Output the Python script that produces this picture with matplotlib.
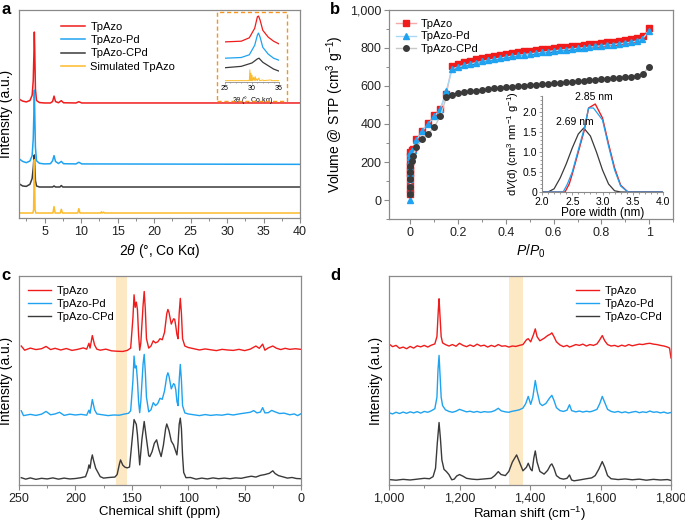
import matplotlib
matplotlib.use("Agg")
import matplotlib.pyplot as plt
from matplotlib.ticker import MultipleLocator, FuncFormatter
from matplotlib.patches import Rectangle

plt.rcParams['font.family'] = ['Liberation Sans', 'DejaVu Sans']
plt.rcParams['mathtext.fontset'] = 'custom'
plt.rcParams['mathtext.rm'] = 'Liberation Sans'
plt.rcParams['mathtext.it'] = 'Liberation Sans:italic'

RED = '#f01c1c'
BLUE = '#1fa3f0'
DARK = '#3a3a3a'
YEL = '#fdbb2a'
GRID = '#8a8a8a'
BAND = '#fde8c4'

# ---------------- panel a: PXRD ----------------
xrd_red_x = [1.5, 2.0, 2.5, 3.0, 3.3, 3.45, 3.55, 3.6, 3.65, 3.75, 3.9, 4.3, 5.0, 5.8, 6.1, 6.3, 6.5, 6.9, 7.3, 7.6, 9.3, 9.7, 10.1, 40]
xrd_red_y = [57.2, 56.2, 55.8, 56.5, 59, 66, 80, 89.4, 82, 62, 56.5, 55.5, 55.3, 55.3, 56, 58.6, 56, 55.4, 56.4, 55.4, 55.3, 55.9, 55.3, 55.3]
xrd_blue_x = [1.5, 2.0, 2.5, 3.0, 3.3, 3.45, 3.55, 3.6, 3.65, 3.75, 3.9, 4.3, 5.0, 5.8, 6.1, 6.3, 6.5, 6.9, 7.3, 7.6, 9.3, 9.7, 10.1, 40]
xrd_blue_y = [28.5, 27.2, 26.6, 27.4, 30, 38, 52, 61.5, 52, 34, 27.5, 26.3, 26.0, 26.1, 27.5, 30, 27.2, 26.2, 27.2, 26.1, 26.0, 26.8, 26.0, 25.8]
xrd_cpd_x = [1.5, 2.0, 2.5, 3.0, 3.3, 3.45, 3.55, 3.6, 3.65, 3.75, 3.9, 4.3, 6.1, 6.3, 6.5, 7.1, 7.3, 7.5, 40]
xrd_cpd_y = [16.5, 15.4, 15.2, 16.2, 19, 24, 29, 30.3, 26, 18, 15.4, 14.9, 14.9, 15.4, 14.9, 14.9, 15.6, 14.9, 14.9]
xrd_sim_x = [1.5, 3.4, 3.5, 3.57, 3.6, 3.63, 3.7, 3.8, 6.15, 6.3, 6.45, 7.15, 7.3, 7.45, 9.55, 9.7, 9.85, 12.7, 12.8, 12.9, 13.1, 13.2, 40]
xrd_sim_y = [2.4, 2.4, 4, 20, 28, 20, 4, 2.4, 2.4, 5.5, 2.4, 2.4, 4.2, 2.4, 2.4, 4.5, 2.4, 2.4, 3.0, 2.4, 2.8, 2.4, 2.4]

# inset of panel a (25-35 deg)
ins_x = [25, 28, 29.5, 30.5, 31.0, 31.2, 31.5, 32, 33, 34, 35]
ins_red = [0.59, 0.60, 0.65, 0.79, 0.96, 0.97, 0.91, 0.76, 0.66, 0.60, 0.56]
ins_blue = [0.35, 0.36, 0.40, 0.54, 0.69, 0.72, 0.66, 0.51, 0.41, 0.35, 0.32]
ins_cpd_x = [25, 28, 30, 31, 31.3, 32, 33, 34, 35]
ins_cpd = [0.21, 0.23, 0.28, 0.34, 0.35, 0.29, 0.24, 0.19, 0.16]
ins_sim_x = [25, 29.5, 29.6, 29.7, 29.8, 29.9, 30.0, 30.1, 30.3, 30.4, 30.6, 30.7, 30.9, 31.0, 31.3, 31.4, 32.0, 32.1, 33.5, 33.6, 35]
ins_sim_y = [0.02, 0.02, 0.18, 0.02, 0.13, 0.02, 0.10, 0.02, 0.07, 0.02, 0.08, 0.02, 0.05, 0.02, 0.06, 0.02, 0.03, 0.02, 0.03, 0.02, 0.02]

# ---------------- panel b: N2 isotherms ----------------
iso_red_x = [0, 0, 0, 0, 0, 0, 0, 0, 0, 0, 0.005, 0.01, 0.025, 0.05, 0.075, 0.1, 0.125, 0.15, 0.175,
             0.2, 0.225, 0.25, 0.275, 0.3, 0.325, 0.35, 0.375, 0.4, 0.425, 0.45, 0.475, 0.5, 0.525, 0.55,
             0.575, 0.6, 0.625, 0.65, 0.675, 0.7, 0.725, 0.75, 0.775, 0.8, 0.825, 0.85, 0.875, 0.9, 0.925,
             0.95, 0.975, 1.0]
iso_red_y = [30, 60, 90, 120, 140, 160, 180, 200, 230, 255, 265, 270, 320, 365, 405, 445, 480, 560, 705,
             718, 725, 732, 740, 745, 752, 758, 764, 770, 774, 778, 782, 786, 790, 793, 797, 800, 804, 807,
             810, 813, 816, 819, 822, 826, 829, 833, 836, 840, 845, 851, 862, 905]
iso_pd_x = [0, 0, 0, 0, 0, 0, 0, 0, 0, 0.005, 0.01, 0.025, 0.05, 0.075, 0.1, 0.125, 0.15, 0.175,
            0.2, 0.225, 0.25, 0.275, 0.3, 0.325, 0.35, 0.375, 0.4, 0.425, 0.45, 0.475, 0.5, 0.525, 0.55,
            0.575, 0.6, 0.625, 0.65, 0.675, 0.7, 0.725, 0.75, 0.775, 0.8, 0.825, 0.85, 0.875, 0.9, 0.925,
            0.95, 0.97, 1.0]
iso_pd_y = [0, 40, 80, 110, 140, 170, 200, 225, 250, 258, 262, 315, 365, 400, 440, 478, 575, 690,
            700, 708, 716, 723, 729, 735, 741, 746, 752, 757, 761, 765, 769, 773, 777, 781, 785, 788, 792,
            795, 798, 801, 804, 808, 811, 815, 818, 822, 826, 831, 837, 846, 890]
iso_cpd_x = [0, 0, 0, 0, 0, 0.005, 0.01, 0.025, 0.05, 0.075, 0.1, 0.125, 0.15, 0.175,
             0.2, 0.225, 0.25, 0.275, 0.3, 0.325, 0.35, 0.375, 0.4, 0.425, 0.45, 0.475, 0.5, 0.525, 0.55,
             0.575, 0.6, 0.625, 0.65, 0.675, 0.7, 0.725, 0.75, 0.775, 0.8, 0.825, 0.85, 0.875, 0.9, 0.925,
             0.95, 0.975, 1.0]
iso_cpd_y = [30, 70, 110, 150, 180, 205, 230, 280, 320, 350, 385, 440, 540, 555,
             562, 567, 572, 576, 580, 584, 587, 590, 593, 596, 599, 602, 605, 607, 610, 612, 615, 617, 620,
             622, 625, 627, 630, 632, 635, 637, 640, 643, 646, 650, 655, 665, 702]

# inset of panel b: pore size distribution
psd_red_x = [2.0, 2.38, 2.45, 2.5, 2.6, 2.7, 2.77, 2.88, 3.0, 3.1, 3.2, 3.3, 3.42, 4.0]
psd_red_y = [0, 0, 0.2, 0.45, 1.0, 1.55, 2.1, 2.2, 1.85, 1.2, 0.6, 0.17, 0, 0]
psd_pd_x = [2.0, 2.35, 2.42, 2.5, 2.6, 2.7, 2.77, 2.85, 3.0, 3.1, 3.2, 3.3, 3.42, 4.0]
psd_pd_y = [0, 0, 0.2, 0.5, 1.05, 1.6, 2.1, 2.1, 1.8, 1.15, 0.55, 0.15, 0, 0]
psd_cpd_x = [2.0, 2.1, 2.2, 2.3, 2.4, 2.5, 2.6, 2.69, 2.8, 2.9, 3.0, 3.1, 3.2, 3.3, 4.0]
psd_cpd_y = [0, 0, 0.08, 0.35, 0.7, 1.1, 1.45, 1.6, 1.4, 1.0, 0.55, 0.2, 0.03, 0, 0]

# ---------------- panel c: 13C NMR ----------------
nmr_red_x = [248, 245, 240, 235, 230, 226, 222, 218, 213, 208, 203, 198, 193, 190, 188, 187, 185, 183, 181,
             178, 173, 168, 163, 158, 154, 151, 149, 148, 147, 146, 145, 144, 143, 142, 140, 139, 138, 137,
             135, 133, 131, 129, 127, 125, 123, 121, 119, 118, 117, 115, 113, 112, 111, 110, 109, 108, 107,
             106, 105, 103, 100, 95, 90, 85, 80, 75, 70, 65, 60, 55, 50, 45, 40, 37, 34, 32, 29, 25, 22, 18,
             14, 10, 5, 0]
nmr_red_y = [66.5, 64.5, 65.5, 64.8, 65.2, 66.3, 64.8, 65.4, 64.6, 65.3, 64.4, 64.9, 65.6, 65.0, 67.8, 65.5,
             71.5, 67, 65, 64.5, 65.0, 64.2, 64.0, 63.9, 64.4, 65.5, 80, 91, 85, 87.5, 84, 72, 64.5, 68, 86,
             92.6, 84, 70, 65.5, 66.5, 69, 68, 68.5, 70, 69.5, 73, 82, 84, 82.5, 77, 79.5, 79.3, 76, 72, 70,
             82, 89.3, 82, 70, 66.5, 65.8, 65.2, 64.6, 65.1, 64.7, 64.3, 64.9, 64.6, 64.4, 64.9, 64.3, 65,
             66.5, 65.4, 67.4, 64.5, 65.6, 66.5, 65.5, 64.8, 65.4, 64.9, 65.2, 64.9]
nmr_pd_x = [248, 246, 240, 235, 230, 226, 222, 218, 214, 210, 205, 200, 195, 190, 188, 187, 185, 183, 181,
            176, 171, 166, 161, 157, 153, 151, 149, 148, 147, 146, 145, 144, 143, 142, 140, 139, 138, 137,
            135, 133, 131, 129, 127, 125, 123, 121, 119, 118, 117, 115, 113, 112, 111, 110, 109, 108, 107,
            106, 105, 103, 100, 95, 90, 85, 80, 75, 70, 65, 60, 55, 50, 45, 42, 39, 36, 34, 32, 29, 26, 23,
            19, 15, 10, 6, 3, 0]
nmr_pd_y = [35.5, 33.2, 33.8, 33.3, 33.9, 35.2, 33.6, 34.0, 34.8, 33.3, 33.9, 33.5, 33.8, 33.4, 35.8, 34.3,
            40.9, 36, 34, 33.6, 33.2, 33.5, 33.4, 33.9, 34.3, 35.5, 50, 61.7, 56, 57, 50, 40, 34.6, 40, 58,
            62.5, 54, 42, 35, 36, 39.4, 38, 39, 41.5, 41, 45, 52, 53.7, 52, 46, 48.5, 48, 45.5, 40, 38, 50,
            57.7, 50, 38, 34.5, 34, 33.6, 33.2, 33.7, 33.3, 33.6, 33.4, 33.9, 33.5, 34.0, 34.4, 34.8, 35.6,
            34.5, 34.9, 37, 34.5, 34.6, 35.7, 35.0, 34.2, 34.4, 33.6, 34.0, 33.2, 34.1]
nmr_cpd_x = [248, 244, 240, 235, 230, 225, 220, 215, 210, 205, 200, 195, 191, 189, 188, 187, 186, 185, 184,
             182, 180, 178, 175, 170, 165, 163, 161, 160, 158, 156, 154, 152, 150, 148, 146, 145, 143, 141,
             139, 137, 135, 134, 132, 130, 128, 126, 124, 122, 120, 119, 117, 115, 113, 111, 110, 109, 108,
             107, 106, 105, 104, 102, 98, 93, 88, 83, 78, 73, 68, 63, 58, 53, 48, 44, 40, 36, 32, 28, 25,
             23, 20, 16, 12, 8, 4, 0]
nmr_cpd_y = [3.5, 2.8, 3.4, 2.7, 3.2, 2.9, 3.4, 2.8, 3.3, 2.9, 3.1, 3.5, 4, 7, 9.6, 8, 12, 14.4, 12, 8, 6, 4,
             3.3, 3.6, 3.8, 5, 10, 12, 9.5, 8.5, 8.2, 8.6, 20, 31.3, 29, 24, 9.6, 22, 30.4, 22, 14, 13.6, 16,
             20, 21.6, 17, 13.6, 19, 27, 29.2, 26, 21, 19.2, 16, 14.4, 20, 29, 32, 27, 14, 6, 3.5, 3.6, 2.8,
             3.3, 2.9, 3.4, 3.0, 3.3, 3.0, 3.4, 3.2, 3.8, 4.2, 3.8, 4.6, 5, 5.6, 6.8, 5.5, 4.5, 3.9, 3.3, 3.6,
             3.1, 3.0]

# ---------------- panel d: Raman ----------------
ram_red_x = [1000, 1010, 1020, 1030, 1040, 1050, 1060, 1070, 1080, 1090, 1100, 1110, 1120, 1130, 1136, 1140,
             1142, 1145, 1148, 1152, 1160, 1170, 1180, 1190, 1200, 1210, 1220, 1230, 1240, 1250, 1260, 1270,
             1280, 1290, 1300, 1310, 1320, 1330, 1340, 1350, 1360, 1370, 1380, 1390, 1395, 1402, 1410, 1415,
             1420, 1428, 1440, 1450, 1458, 1462, 1468, 1475, 1485, 1495, 1505, 1512, 1520, 1530, 1540, 1550,
             1560, 1570, 1580, 1590, 1598, 1605, 1612, 1620, 1630, 1640, 1650, 1660, 1670, 1680, 1690, 1700,
             1710, 1720, 1730, 1740, 1750, 1760, 1770, 1780, 1790, 1796, 1798, 1800]
ram_red_y = [67.5, 66.2, 66.8, 65.4, 66.0, 65.2, 66.3, 65.5, 66.6, 66.1, 66.8, 66.0, 66.9, 67.5, 71, 84, 89.1,
             80, 71, 68, 67.2, 66.5, 67.2, 66.4, 67.8, 66.8, 66.2, 67.0, 66.3, 67.4, 66.5, 66.9, 66.0, 66.8,
             66.2, 67.2, 66.4, 66.6, 66.0, 66.5, 66.3, 66.8, 67.2, 69.5, 70, 68.5, 72, 74.7, 71, 69, 70.2, 71.5,
             72.2, 72.8, 71, 68.5, 67, 66.2, 66.8, 66.0, 66.5, 67.2, 66.8, 67.4, 66.5, 67.2, 66.8, 67.5, 69.5,
             71.5, 69, 67.2, 66.5, 66.8, 66.2, 66.9, 66.4, 67.2, 66.6, 67.0, 67.4, 67.2, 67.6, 67.8, 67.4, 67.2,
             66.8, 66.5, 66.0, 65.5, 63, 60.8]
ram_pd_x = [1000, 1010, 1020, 1030, 1040, 1050, 1060, 1070, 1080, 1090, 1100, 1110, 1120, 1130, 1136, 1139,
            1142, 1145, 1148, 1152, 1160, 1170, 1180, 1190, 1200, 1210, 1220, 1230, 1240, 1250, 1260, 1270,
            1280, 1290, 1300, 1310, 1318, 1330, 1340, 1350, 1360, 1370, 1380, 1388, 1395, 1402, 1408, 1415,
            1420, 1428, 1435, 1445, 1455, 1462, 1468, 1475, 1485, 1495, 1505, 1512, 1518, 1530, 1540, 1550,
            1560, 1570, 1580, 1590, 1598, 1605, 1612, 1620, 1630, 1640, 1650, 1660, 1670, 1680, 1690, 1700,
            1710, 1720, 1730, 1740, 1750, 1760, 1770, 1780, 1790, 1800]
ram_pd_y = [34.6, 34.0, 34.8, 34.2, 34.9, 34.3, 35.0, 34.5, 35.1, 34.4, 35.2, 34.8, 35.5, 36.5, 42, 55, 62, 52,
            42, 38, 36, 35.2, 34.8, 35.3, 36.2, 35.6, 35.0, 35.3, 34.8, 35.2, 34.7, 35.1, 34.9, 35.0, 35.6,
            36.7, 35.5, 35.0, 34.8, 35.3, 35.6, 36.0, 36.8, 39, 42.4, 38.6, 42, 50, 45, 39, 38, 39, 41.5, 42.9,
            40.5, 37, 35.6, 35.2, 35.8, 38.4, 35.6, 35.0, 35.4, 34.9, 35.3, 35.0, 35.5, 36.2, 39, 42.4, 39.5,
            36.2, 35.2, 34.8, 35.2, 34.6, 35.0, 34.5, 34.9, 35.2, 34.6, 35.0, 34.7, 35.4, 34.8, 35.0, 34.5,
            34.9, 34.3, 34.7]
ram_cpd_x = [1000, 1020, 1040, 1060, 1080, 1100, 1115, 1125, 1132, 1137, 1142, 1146, 1150, 1156, 1163, 1170,
             1178, 1185, 1192, 1200, 1210, 1220, 1235, 1250, 1270, 1290, 1300, 1310, 1318, 1330, 1340, 1350,
             1362, 1370, 1380, 1390, 1395, 1402, 1406, 1411, 1415, 1420, 1428, 1440, 1450, 1458, 1462, 1468,
             1475, 1485, 1495, 1505, 1512, 1518, 1525, 1540, 1560, 1575, 1585, 1595, 1605, 1612, 1620, 1630,
             1650, 1670, 1690, 1710, 1730, 1750, 1770, 1790, 1800]
ram_cpd_y = [2.6, 2.3, 2.7, 2.4, 2.8, 3.2, 3.0, 4, 8, 20, 29.9, 22, 12, 7.5, 6.4, 5, 2.5, 2.8, 4.3, 5, 4.2, 3.2,
             2.8, 2.6, 2.9, 3.2, 4.5, 6.4, 5, 4.5, 6.5, 11, 14.4, 11, 6.8, 8.5, 10.4, 7.5, 6.8, 13, 16.3, 11, 6.5,
             5.2, 7, 9.5, 10.1, 8, 4.5, 3.2, 2.8, 3.2, 4.8, 2.4, 2.0, 2.4, 3.0, 3.4, 4.5, 7.5, 11.2, 8.5, 4.5,
             3.0, 2.6, 2.9, 2.5, 2.8, 2.3, 2.7, 2.4, 2.6, 2.2]

labels = ['TpAzo', 'TpAzo-Pd', 'TpAzo-CPd', 'Simulated TpAzo']

W, H = 685, 524
fig = plt.figure(figsize=(W / 100, H / 100), dpi=100)


def px_axes(left, top, right, bottom):
    return fig.add_axes([left / W, 1 - bottom / H, (right - left) / W, (bottom - top) / H])


def style(ax, yticks=False):
    for s in ax.spines.values():
        s.set_color(GRID)
        s.set_linewidth(0.9)
    ax.tick_params(which='both', direction='out', color=GRID, labelsize=9, labelcolor='#222222', pad=2)
    ax.tick_params(which='major', length=3.5, width=0.8)
    ax.tick_params(which='minor', length=2, width=0.7)
    if not yticks:
        ax.set_yticks([])


thousands = FuncFormatter(lambda v, p: '{:,.0f}'.format(v))
leg_kw = dict(frameon=False, fontsize=8, handlelength=2.1, handletextpad=0.5, labelspacing=0.3, borderaxespad=0)

# ---- a ----
ax = px_axes(19, 10, 300, 218)
style(ax)
ax.plot(xrd_red_x, xrd_red_y, color=RED, lw=1.1, label=labels[0])
ax.plot(xrd_blue_x, xrd_blue_y, color=BLUE, lw=1.1, label=labels[1])
ax.plot(xrd_cpd_x, xrd_cpd_y, color=DARK, lw=1.1, label=labels[2])
ax.plot(xrd_sim_x, xrd_sim_y, color=YEL, lw=1.1, label=labels[3])
ax.set_xlim(1.5, 40)
ax.set_ylim(0, 100)
ax.xaxis.set_major_locator(MultipleLocator(5))
ax.xaxis.set_minor_locator(MultipleLocator(2.5))
ax.set_xlabel(r'2$\it{\theta}$ (°, Co Kα)', fontsize=10, labelpad=3)
ax.set_ylabel('Intensity (a.u.)', fontsize=10, labelpad=4)
ax.legend(loc='upper left', bbox_to_anchor=(0.135, 0.965), **leg_kw)

# inset a
fig.add_artist(Rectangle((217 / W, 1 - 101 / H), 70 / W, 89 / H, transform=fig.transFigure,
                         fill=False, ec='#f7941d', lw=1.0, ls=(0, (3, 2))))
axi = px_axes(225, 14, 279, 82)
axi.plot(ins_x, ins_red, color=RED, lw=0.9)
axi.plot(ins_x, ins_blue, color=BLUE, lw=0.9)
axi.plot(ins_cpd_x, ins_cpd, color=DARK, lw=0.9)
axi.plot(ins_sim_x, ins_sim_y, color=YEL, lw=0.7)
axi.set_xlim(25, 35)
axi.set_ylim(0, 1)
axi.patch.set_alpha(0)
for s in ['top', 'right', 'left']:
    axi.spines[s].set_visible(False)
axi.spines['bottom'].set_color(GRID)
axi.spines['bottom'].set_linewidth(0.6)
axi.set_yticks([])
axi.set_xticks([25, 30, 35])
axi.xaxis.set_minor_locator(MultipleLocator(1))
axi.tick_params(which='both', direction='out', color=GRID, labelsize=5, pad=1, length=1.5, width=0.5)
axi.tick_params(which='minor', length=1)
axi.set_xlabel(r'2$\it{\theta}$ (°, Co kα)', fontsize=5, labelpad=1)

# ---- b ----
ax = px_axes(389, 10, 673, 219)
style(ax, yticks=True)
ax.plot(iso_red_x, iso_red_y, color='#f6a9a9', lw=1.0, marker='s', ms=4, mfc=RED, mec=RED, label=labels[0])
ax.plot(iso_pd_x, iso_pd_y, color='#a9d8f6', lw=1.0, marker='^', ms=4.5, mfc=BLUE, mec=BLUE, label=labels[1])
ax.plot(iso_cpd_x, iso_cpd_y, color='#c8c8c8', lw=1.0, marker='o', ms=4, mfc=DARK, mec=DARK, label=labels[2])
ax.set_xlim(-0.09, 1.1)
ax.set_ylim(-100, 1000)
ax.set_xticks([0, 0.2, 0.4, 0.6, 0.8, 1.0])
ax.set_xticklabels(['0', '0.2', '0.4', '0.6', '0.8', '1'])
ax.xaxis.set_minor_locator(MultipleLocator(0.1))
ax.set_yticks([0, 200, 400, 600, 800, 1000])
ax.yaxis.set_major_formatter(thousands)
ax.yaxis.set_minor_locator(MultipleLocator(100))
ax.set_xlabel(r'$\it{P}$/$\it{P}_{\rm 0}$', fontsize=10, labelpad=3)
ax.set_ylabel('Volume @ STP (cm$^{3}$ g$^{-1}$)', fontsize=10, labelpad=3)
ax.legend(loc='upper left', bbox_to_anchor=(0.01, 0.98), frameon=False, fontsize=8,
          handlelength=1.8, handletextpad=0.4, labelspacing=0.25, borderaxespad=0)

# inset b
axp = px_axes(542, 96, 663, 192)
axp.plot(psd_cpd_x, psd_cpd_y, color=DARK, lw=0.9)
axp.plot(psd_red_x, psd_red_y, color=RED, lw=1.0)
axp.plot(psd_pd_x, psd_pd_y, color=BLUE, lw=0.9)
axp.set_xlim(2.0, 4.0)
axp.set_ylim(0, 2.4)
axp.patch.set_alpha(0)
for s in ['top', 'right']:
    axp.spines[s].set_visible(False)
for s in ['left', 'bottom']:
    axp.spines[s].set_color(GRID)
    axp.spines[s].set_linewidth(0.8)
axp.set_xticks([2.0, 2.5, 3.0, 3.5, 4.0])
axp.set_yticks([0, 0.5, 1.0, 1.5, 2.0])
axp.set_yticklabels(['0', '0.5', '1.0', '1.5', '2.0'])
axp.xaxis.set_minor_locator(MultipleLocator(0.1))
axp.yaxis.set_minor_locator(MultipleLocator(0.1))
axp.tick_params(which='both', direction='out', color=GRID, labelsize=7.5, pad=1, length=2.5, width=0.6)
axp.tick_params(which='minor', length=1.3)
axp.set_xlabel('Pore width (nm)', fontsize=8.5, labelpad=0)
axp.set_ylabel(r'd$\it{V}$(d) (cm$^{3}$ nm$^{-1}$ g$^{-1}$)', fontsize=8, labelpad=1)
axp.text(2.85, 2.25, '2.85 nm', fontsize=7.5, ha='center', va='bottom')
axp.text(2.55, 1.62, '2.69 nm', fontsize=7.5, ha='center', va='bottom')

# ---- c ----
ax = px_axes(19, 276, 301, 485)
style(ax)
ax.axvspan(154, 164, color=BAND, lw=0)
ax.plot(nmr_red_x, nmr_red_y, color=RED, lw=1.0, label=labels[0])
ax.plot(nmr_pd_x, nmr_pd_y, color=BLUE, lw=1.0, label=labels[1])
ax.plot(nmr_cpd_x, nmr_cpd_y, color=DARK, lw=1.0, label=labels[2])
ax.set_xlim(250, 0)
ax.set_ylim(0, 100)
ax.xaxis.set_major_locator(MultipleLocator(50))
ax.xaxis.set_minor_locator(MultipleLocator(25))
ax.set_xlabel('Chemical shift (ppm)', fontsize=9.5, labelpad=1)
ax.set_ylabel('Intensity (a.u.)', fontsize=10, labelpad=4)
ax.legend(loc='upper left', bbox_to_anchor=(0.015, 0.975), **leg_kw)

# ---- d ----
ax = px_axes(389, 276, 671, 485)
style(ax)
ax.axvspan(1340, 1379, color=BAND, lw=0)
ax.plot(ram_red_x, ram_red_y, color=RED, lw=1.0, label=labels[0])
ax.plot(ram_pd_x, ram_pd_y, color=BLUE, lw=1.0, label=labels[1])
ax.plot(ram_cpd_x, ram_cpd_y, color=DARK, lw=1.0, label=labels[2])
ax.set_xlim(1000, 1800)
ax.set_ylim(0, 100)
ax.xaxis.set_major_locator(MultipleLocator(200))
ax.xaxis.set_minor_locator(MultipleLocator(100))
ax.xaxis.set_major_formatter(thousands)
ax.set_xlabel('Raman shift (cm$^{-1}$)', fontsize=9.5, labelpad=0)
ax.set_ylabel('Intensity (a.u.)', fontsize=10, labelpad=4)
ax.legend(loc='upper right', bbox_to_anchor=(0.985, 0.975), **leg_kw)

# panel letters
for letter, (x, y) in zip('abcd', [(1, 9), (330, 9), (1, 276), (330, 276)]):
    fig.text(x / W, 1 - y / H, letter, fontsize=12, fontweight='bold', va='center', ha='left')

fig.savefig('out.png', dpi=100)
